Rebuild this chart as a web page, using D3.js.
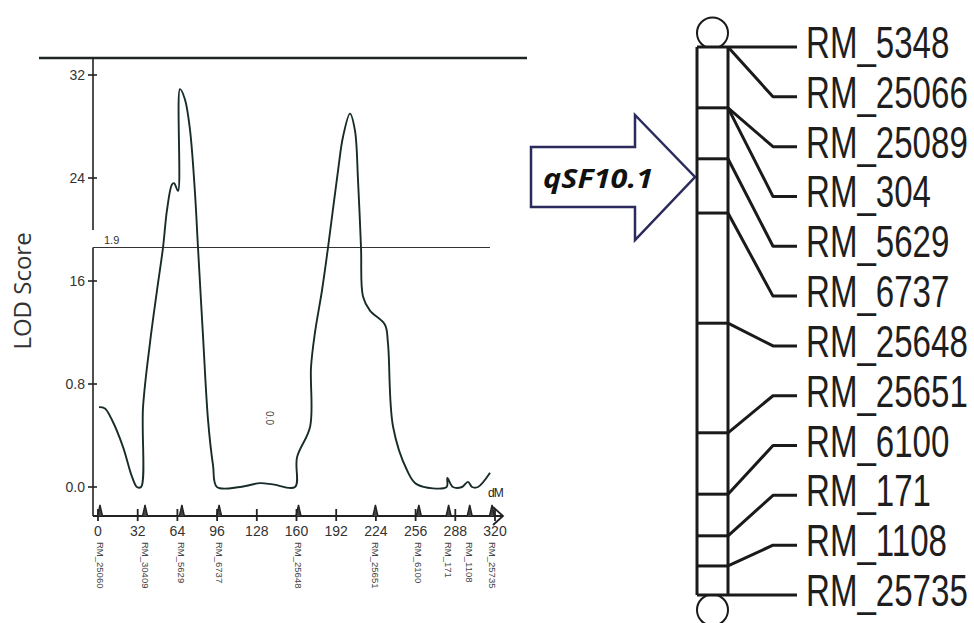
<!DOCTYPE html>
<html>
<head>
<meta charset="utf-8">
<script src="https://cdn.jsdelivr.net/npm/d3@7"></script>
<style>
  body { margin: 0; background: #fff; }
  svg { display: block; }
</style>
</head>
<body>
<script>
// LOD trace along the linkage group (cM, LOD in axis units)
const lodPos = [0.8, 5.6, 11.3, 20.2, 27.4, 31.4, 34.7, 36.3, 41.9, 47.6, 52.4, 55.6, 59.6, 61.3, 64.5, 66.1,
  70.1, 74.2, 78.2, 80.6, 84.6, 88.7, 92.7, 95.9, 114.5, 130.6, 141, 158.8, 160.4, 171, 171.7, 174.9,
  180.6, 185.4, 193.5, 197.5, 203.1, 207.1, 209.6, 212, 213.6, 219.2, 231.3, 233.7, 237.8, 249.1,
  257.1, 281, 281.6, 286.1, 293.4, 298.2, 301.5, 306.3, 316];
const lodVal = [6.2, 6.1, 5.2, 3.1, 0.8, 0, 0, 6.2, 11.2, 15.3, 18.6, 21.5, 23.5, 23.6, 23.0, 30.9,
  30.1, 27.7, 22.8, 18.6, 11.8, 5.2, 1.7, 0, 0, 0.3, 0.2, 0, 2.3, 4.7, 9.3, 12.0,
  15.3, 18.6, 24.6, 27.2, 29.0, 27.7, 23.8, 18.6, 14.8, 13.7, 12.6, 11.2, 4.7, 1.3,
  0.2, 0, 0.7, 0, 0, 0.4, 0, 0, 1.1];

const yTicks = [0, 8, 16, 24, 32];
const yTickLabels = ["0.0", "0.8", "16", "24", "32"];
const xTicks = [0, 32, 64, 96, 128, 160, 192, 224, 256, 288, 320];
const threshold = 18.6;
const thresholdLabel = "1.9";

const axisMarkers = ["RM_25060", "RM_30409", "RM_5629", "RM_6737", "RM_25648", "RM_25651", "RM_6100", "RM_171", "RM_1108", "RM_25735"];
const axisMarkerPos = [0, 36.3, 66, 96, 160, 222, 257, 281, 298, 316];

// chromosome map on the right (position along bar, 0 = top, 100 = bottom)
const chromMarkers = ["RM_5348", "RM_25066", "RM_25089", "RM_304", "RM_5629", "RM_6737",
  "RM_25648", "RM_25651", "RM_6100", "RM_171", "RM_1108", "RM_25735"];
const chromMarkerPos = [0, 0, 11.1, 11.1, 20.4, 30.3, 50.4, 70.4, 81.6, 89.2, 94.7, 100];
const chromBands = [0, 11.1, 20.4, 30.3, 50.4, 70.4, 81.6, 89.2, 94.7, 100];
const qtlName = "qSF10.1";

const W = 974, H = 623;
const svg = d3.select("body").append("svg").attr("width", W).attr("height", H);

const x = d3.scaleLinear().domain([0, 320]).range([98, 495]);
const y = d3.scaleLinear().domain([0, 32]).range([487, 75]);
const axisX = 93, axisY = 516;
const ink = "#222";

// top rule
svg.append("line").attr("x1", 39).attr("x2", 527).attr("y1", 58).attr("y2", 58)
  .attr("stroke", "#1f2626").attr("stroke-width", 2.5);

// y axis (broken where the threshold label sits)
svg.append("line").attr("x1", axisX).attr("x2", axisX).attr("y1", 58).attr("y2", 230)
  .attr("stroke", ink).attr("stroke-width", 1.6);
svg.append("line").attr("x1", axisX).attr("x2", axisX).attr("y1", y(threshold)).attr("y2", axisY)
  .attr("stroke", ink).attr("stroke-width", 1.6);

const yg = svg.append("g").attr("font-family", "Liberation Sans, Arial, sans-serif").attr("font-size", 14).attr("fill", "#333");
yTicks.forEach((t, i) => {
  yg.append("line").attr("x1", axisX - 5).attr("x2", axisX + 4).attr("y1", y(t)).attr("y2", y(t))
    .attr("stroke", ink).attr("stroke-width", 1.6);
  yg.append("text").attr("x", axisX - 8).attr("y", y(t) + 5).attr("text-anchor", "end").text(yTickLabels[i]);
});

svg.append("text").attr("transform", `translate(31,291) rotate(-90)`)
  .attr("text-anchor", "middle").attr("font-family", "Open Sans, sans-serif").attr("font-size", 24)
  .attr("fill", "#333").text("LOD Score");

// threshold line
svg.append("line").attr("x1", axisX).attr("x2", 490).attr("y1", y(threshold)).attr("y2", y(threshold))
  .attr("stroke", "#333").attr("stroke-width", 1.1);
svg.append("text").attr("x", 104).attr("y", y(threshold) - 4).attr("font-family", "Liberation Sans, Arial, sans-serif")
  .attr("font-size", 11).attr("fill", "#333").text(thresholdLabel);

// x axis
svg.append("line").attr("x1", axisX).attr("x2", 503).attr("y1", axisY).attr("y2", axisY)
  .attr("stroke", ink).attr("stroke-width", 1.8);
svg.append("path").attr("d", `M493,507L503,516L493,525`).attr("fill", "none").attr("stroke", ink).attr("stroke-width", 1.8);

const xg = svg.append("g").attr("font-family", "Liberation Sans, Arial, sans-serif").attr("font-size", 14).attr("fill", "#333");
xTicks.forEach(t => {
  xg.append("line").attr("x1", x(t)).attr("x2", x(t)).attr("y1", 509).attr("y2", 521)
    .attr("stroke", ink).attr("stroke-width", 1.8);
  xg.append("text").attr("x", x(t)).attr("y", 536).attr("text-anchor", "middle").text(t);
});

// marker spikes and names along the x axis
axisMarkers.forEach((m, i) => {
  const px = x(axisMarkerPos[i]) + 2;
  svg.append("path").attr("d", `M${px - 2.5},${axisY}L${px},505L${px + 2.5},${axisY}`)
    .attr("fill", "#444").attr("stroke", ink).attr("stroke-width", 1.4);
  svg.append("text").attr("transform", `translate(${px - 3.5},542) rotate(90)`)
    .attr("font-family", "Liberation Sans, Arial, sans-serif").attr("font-size", 9.5).attr("fill", "#444").text(m);
});

svg.append("text").attr("x", 488).attr("y", 497).attr("font-family", "Liberation Sans, Arial, sans-serif")
  .attr("font-size", 12).attr("fill", "#222").attr("letter-spacing", -1).text("dM");

svg.append("text").attr("transform", `translate(266,418) rotate(90)`).attr("text-anchor", "middle")
  .attr("font-family", "Liberation Sans, Arial, sans-serif").attr("font-size", 10).attr("fill", "#444").text("0.0");

// LOD curve
const line = d3.line().x(d => x(d[0])).y(d => y(d[1])).curve(d3.curveCatmullRom.alpha(0.5));
svg.append("path").datum(lodPos.map((p, i) => [p, lodVal[i]]))
  .attr("d", line).attr("fill", "none").attr("stroke", "#172c2a").attr("stroke-width", 1.9)
  .attr("stroke-linejoin", "round");

// QTL arrow
const arrow = [[531, 147], [635, 147], [635, 115], [695, 177], [635, 240], [635, 207], [531, 207]];
svg.append("path").attr("d", "M" + arrow.join("L") + "Z").attr("fill", "#fff")
  .attr("stroke", "#2b2a5c").attr("stroke-width", 2.5);
svg.append("text").attr("x", 543).attr("y", 188)
  .attr("font-family", "Open Sans, sans-serif").attr("font-weight", "bold").attr("font-style", "italic")
  .attr("font-size", 26).attr("textLength", 110).attr("lengthAdjust", "spacingAndGlyphs")
  .attr("fill", "#111").text(qtlName);

// chromosome
const cy = d3.scaleLinear().domain([0, 100]).range([47, 595]);
const labelY = d3.scalePoint().domain(chromMarkers).range([47, 595]);
const cL = 697, cR = 728, cMid = (cL + cR) / 2;
const chrom = svg.append("g").attr("stroke", "#1a1a1a").attr("stroke-width", 3).attr("fill", "none");
chrom.append("circle").attr("cx", cMid).attr("cy", 33).attr("r", 15.5).attr("stroke-width", 2);
chrom.append("circle").attr("cx", cMid).attr("cy", 610).attr("r", 15.5).attr("stroke-width", 2);
chrom.append("rect").attr("x", cMid - 14).attr("y", 47).attr("width", 28).attr("height", 548).attr("fill", "#fff").attr("stroke", "none");
chrom.append("line").attr("x1", cL).attr("x2", cL).attr("y1", cy(0)).attr("y2", cy(100));
chrom.append("line").attr("x1", cR).attr("x2", cR).attr("y1", cy(0)).attr("y2", cy(100));
chromBands.forEach(b => {
  chrom.append("line").attr("x1", cL).attr("x2", cR).attr("y1", cy(b)).attr("y2", cy(b));
});
chromMarkers.forEach((m, i) => {
  const y0 = cy(chromMarkerPos[i]), y1 = labelY(m);
  chrom.append("path").attr("d", `M${cR},${y0}L773,${y1}L797,${y1}`).attr("stroke-linejoin", "round");
  svg.append("text").attr("transform", `translate(806,${y1 + 11}) scale(0.735,1)`)
    .attr("font-family", "Liberation Sans, Arial, sans-serif")
    .attr("font-size", 45).attr("fill", "#1e1e1e").text(m);
});
</script>
</body>
</html>
